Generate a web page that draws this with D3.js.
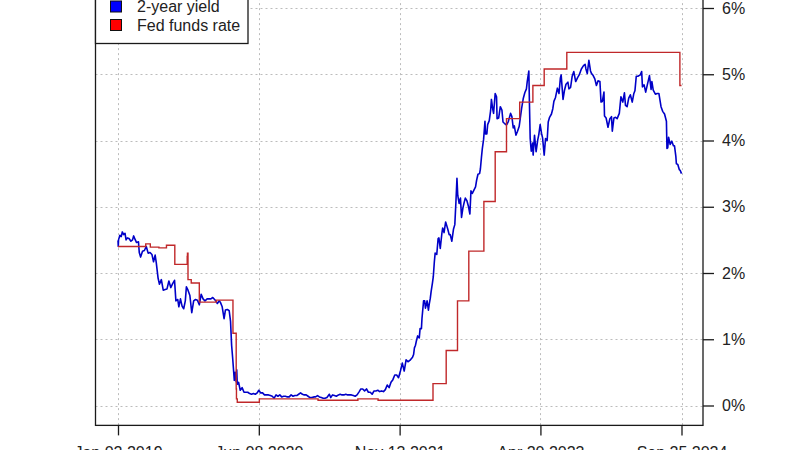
<!DOCTYPE html>
<html><head><meta charset="utf-8">
<script src="https://cdn.jsdelivr.net/npm/d3@7"></script>
<style>body{margin:0;background:#fff}svg{display:block}text{font-family:"Liberation Sans",Arial,sans-serif}</style>
</head><body><svg id="chart" width="800" height="450"></svg>
<script>
// 2-year Treasury yield (%)
const yieldSeries = [
["2019-01-02",2.49],["2019-01-03",2.40],["2019-01-04",2.50],["2019-01-09",2.57],["2019-01-14",2.55],["2019-01-18",2.62],["2019-01-23",2.58],["2019-01-28",2.60],
["2019-02-01",2.50],["2019-02-06",2.53],["2019-02-12",2.52],["2019-02-19",2.48],["2019-02-25",2.50],["2019-03-01",2.56],["2019-03-06",2.51],["2019-03-12",2.46],
["2019-03-19",2.47],["2019-03-22",2.31],["2019-03-27",2.24],["2019-04-03",2.33],["2019-04-10",2.34],["2019-04-17",2.40],["2019-04-24",2.30],["2019-05-01",2.31],
["2019-05-08",2.28],["2019-05-14",2.17],["2019-05-20",2.27],["2019-05-24",2.16],["2019-05-31",1.92],["2019-06-05",1.83],["2019-06-12",1.90],["2019-06-19",1.74],
["2019-06-26",1.75],["2019-07-03",1.76],["2019-07-10",1.88],["2019-07-17",1.78],["2019-07-24",1.84],["2019-07-31",1.89],["2019-08-05",1.58],["2019-08-12",1.60],
["2019-08-16",1.49],["2019-08-22",1.61],["2019-08-28",1.50],["2019-09-03",1.46],["2019-09-09",1.58],["2019-09-13",1.79],["2019-09-19",1.74],["2019-09-26",1.66],
["2019-10-03",1.40],["2019-10-10",1.58],["2019-10-17",1.60],["2019-10-24",1.59],["2019-10-31",1.52],["2019-11-07",1.68],["2019-11-14",1.61],["2019-11-21",1.58],
["2019-11-29",1.61],["2019-12-06",1.61],["2019-12-13",1.61],["2019-12-20",1.63],["2019-12-31",1.58],
["2020-01-06",1.54],["2020-01-13",1.58],["2020-01-17",1.56],["2020-01-24",1.49],["2020-01-31",1.31],["2020-02-05",1.44],["2020-02-12",1.45],["2020-02-19",1.43],
["2020-02-24",1.27],["2020-02-28",0.91],["2020-03-03",0.71],["2020-03-09",0.38],["2020-03-12",0.50],["2020-03-16",0.36],["2020-03-18",0.54],["2020-03-20",0.32],
["2020-03-25",0.35],["2020-03-31",0.23],["2020-04-07",0.27],["2020-04-14",0.20],["2020-04-21",0.20],["2020-04-28",0.20],["2020-05-05",0.18],["2020-05-12",0.17],
["2020-05-19",0.18],["2020-05-26",0.17],["2020-06-02",0.19],["2020-06-08",0.23],["2020-06-15",0.19],["2020-06-22",0.19],["2020-06-29",0.16],["2020-07-07",0.16],
["2020-07-14",0.16],["2020-07-21",0.15],["2020-07-28",0.14],["2020-08-04",0.11],["2020-08-11",0.16],["2020-08-18",0.14],["2020-08-25",0.16],["2020-09-01",0.13],
["2020-09-08",0.14],["2020-09-15",0.14],["2020-09-22",0.13],["2020-09-29",0.13],["2020-10-06",0.16],["2020-10-13",0.14],["2020-10-20",0.15],["2020-10-27",0.15],
["2020-11-03",0.17],["2020-11-10",0.19],["2020-11-17",0.17],["2020-11-24",0.16],["2020-12-01",0.16],["2020-12-08",0.14],["2020-12-15",0.12],["2020-12-22",0.12],
["2020-12-31",0.13],
["2021-01-05",0.13],["2021-01-12",0.15],["2021-01-19",0.13],["2021-01-26",0.12],["2021-02-02",0.11],["2021-02-09",0.11],["2021-02-16",0.12],["2021-02-25",0.17],
["2021-03-02",0.12],["2021-03-09",0.16],["2021-03-16",0.15],["2021-03-23",0.14],["2021-03-31",0.16],["2021-04-06",0.17],["2021-04-13",0.16],["2021-04-20",0.16],
["2021-04-27",0.17],["2021-05-04",0.16],["2021-05-11",0.16],["2021-05-18",0.16],["2021-05-25",0.15],["2021-06-01",0.14],["2021-06-08",0.16],["2021-06-16",0.21],
["2021-06-22",0.25],["2021-06-29",0.25],["2021-07-06",0.22],["2021-07-13",0.25],["2021-07-20",0.20],["2021-07-27",0.20],["2021-08-03",0.17],["2021-08-10",0.22],
["2021-08-17",0.22],["2021-08-24",0.23],["2021-08-31",0.21],["2021-09-07",0.22],["2021-09-14",0.21],["2021-09-21",0.24],["2021-09-28",0.31],["2021-10-05",0.27],
["2021-10-12",0.35],["2021-10-19",0.39],["2021-10-26",0.46],["2021-11-02",0.46],["2021-11-09",0.42],["2021-11-16",0.52],["2021-11-23",0.64],["2021-11-30",0.52],
["2021-12-07",0.69],["2021-12-14",0.66],["2021-12-21",0.68],["2021-12-31",0.73],
["2022-01-04",0.77],["2022-01-07",0.87],["2022-01-11",0.91],["2022-01-14",0.97],["2022-01-19",1.05],["2022-01-25",1.02],["2022-01-28",1.16],["2022-02-02",1.16],
["2022-02-04",1.31],["2022-02-10",1.58],["2022-02-14",1.58],["2022-02-17",1.47],["2022-02-23",1.58],["2022-02-28",1.44],["2022-03-03",1.53],["2022-03-07",1.62],
["2022-03-10",1.72],["2022-03-15",1.85],["2022-03-18",1.94],["2022-03-22",2.17],["2022-03-25",2.30],["2022-03-31",2.28],["2022-04-05",2.52],["2022-04-08",2.53],
["2022-04-13",2.37],["2022-04-19",2.60],["2022-04-22",2.68],["2022-04-27",2.61],["2022-05-03",2.77],["2022-05-06",2.73],["2022-05-11",2.66],["2022-05-16",2.58],
["2022-05-20",2.58],["2022-05-26",2.48],["2022-06-01",2.66],["2022-06-06",2.73],["2022-06-10",3.06],["2022-06-14",3.43],["2022-06-17",3.17],["2022-06-22",3.05],
["2022-06-27",3.13],["2022-07-01",2.84],["2022-07-06",2.98],["2022-07-11",3.07],["2022-07-15",3.13],["2022-07-21",3.09],["2022-07-27",3.00],["2022-08-01",2.89],
["2022-08-05",3.24],["2022-08-10",3.20],["2022-08-16",3.25],["2022-08-22",3.30],["2022-08-26",3.40],["2022-08-31",3.49],["2022-09-06",3.50],["2022-09-09",3.57],
["2022-09-13",3.75],["2022-09-16",3.87],["2022-09-21",4.02],["2022-09-26",4.29],["2022-09-28",4.10],["2022-10-03",4.10],["2022-10-06",4.24],["2022-10-12",4.30],
["2022-10-17",4.45],["2022-10-20",4.62],["2022-10-25",4.47],["2022-10-28",4.41],["2022-11-03",4.71],["2022-11-08",4.66],["2022-11-10",4.33],["2022-11-16",4.34],
["2022-11-22",4.51],["2022-11-28",4.46],["2022-12-02",4.28],["2022-12-07",4.26],["2022-12-13",4.24],["2022-12-16",4.24],["2022-12-22",4.29],["2022-12-30",4.41],
["2023-01-04",4.36],["2023-01-09",4.19],["2023-01-13",4.22],["2023-01-19",4.08],["2023-01-25",4.14],["2023-01-31",4.21],["2023-02-03",4.30],["2023-02-09",4.48],
["2023-02-15",4.63],["2023-02-21",4.72],["2023-02-27",4.78],["2023-03-02",4.89],["2023-03-08",5.05],["2023-03-10",4.60],["2023-03-13",4.03],["2023-03-15",3.93],
["2023-03-17",3.84],["2023-03-22",3.96],["2023-03-24",3.78],["2023-03-29",4.08],["2023-04-04",3.83],["2023-04-10",4.01],["2023-04-14",4.09],["2023-04-19",4.24],
["2023-04-24",4.11],["2023-04-28",4.04],["2023-05-04",3.78],["2023-05-09",4.03],["2023-05-15",4.00],["2023-05-19",4.28],["2023-05-24",4.35],["2023-05-31",4.40],
["2023-06-05",4.48],["2023-06-09",4.59],["2023-06-15",4.65],["2023-06-22",4.79],["2023-06-28",4.71],["2023-07-03",4.94],["2023-07-06",4.99],["2023-07-13",4.62],
["2023-07-18",4.75],["2023-07-24",4.85],["2023-07-31",4.88],["2023-08-04",4.78],["2023-08-10",4.80],["2023-08-16",4.97],["2023-08-22",5.04],["2023-08-29",4.89],
["2023-09-05",4.95],["2023-09-11",4.99],["2023-09-19",5.08],["2023-09-27",5.13],["2023-10-03",5.15],["2023-10-06",5.08],["2023-10-11",5.01],["2023-10-17",5.21],
["2023-10-23",5.05],["2023-10-27",5.01],["2023-11-02",4.98],["2023-11-08",4.93],["2023-11-14",4.83],["2023-11-20",4.90],["2023-11-27",4.89],["2023-12-01",4.58],
["2023-12-06",4.59],["2023-12-12",4.73],["2023-12-14",4.37],["2023-12-20",4.34],["2023-12-27",4.20],
["2024-01-03",4.33],["2024-01-09",4.36],["2024-01-12",4.14],["2024-01-18",4.34],["2024-01-24",4.35],["2024-01-30",4.33],["2024-02-02",4.36],["2024-02-07",4.41],
["2024-02-13",4.66],["2024-02-20",4.58],["2024-02-26",4.72],["2024-03-01",4.53],["2024-03-07",4.51],["2024-03-13",4.64],["2024-03-19",4.69],["2024-03-26",4.58],
["2024-04-01",4.71],["2024-04-05",4.75],["2024-04-10",4.97],["2024-04-16",4.97],["2024-04-25",4.99],["2024-04-30",5.04],["2024-05-03",4.81],["2024-05-09",4.84],
["2024-05-15",4.73],["2024-05-21",4.84],["2024-05-29",4.98],["2024-06-04",4.77],["2024-06-07",4.89],["2024-06-12",4.76],["2024-06-20",4.70],["2024-06-27",4.71],
["2024-07-03",4.71],["2024-07-11",4.51],["2024-07-17",4.44],["2024-07-24",4.40],["2024-07-31",4.29],["2024-08-02",3.88],["2024-08-05",3.89],["2024-08-08",4.05],
["2024-08-14",3.94],["2024-08-20",3.99],["2024-08-26",3.92],["2024-08-30",3.92],["2024-09-04",3.76],["2024-09-06",3.65],["2024-09-11",3.64],["2024-09-17",3.56],
["2024-09-20",3.55],["2024-09-25",3.50]
];

// Effective fed funds rate (%), step changes
const fedFundsSeries = [
["2019-01-02",2.40],["2019-04-15",2.44],["2019-05-02",2.39],["2019-06-03",2.38],["2019-07-01",2.42],["2019-08-01",2.13],["2019-09-16",2.25],["2019-09-17",2.30],
["2019-09-19",1.90],["2019-10-01",1.85],["2019-10-31",1.58],["2019-11-01",1.56],["2020-01-02",1.59],["2020-03-04",1.09],["2020-03-16",0.25],["2020-03-17",0.10],
["2020-03-20",0.05],["2020-06-10",0.10],["2021-01-14",0.08],["2021-06-11",0.10],["2021-08-25",0.08],["2022-03-17",0.33],["2022-05-05",0.83],["2022-06-16",1.58],
["2022-07-28",2.33],["2022-09-22",3.08],["2022-11-03",3.83],["2022-12-15",4.33],["2023-02-02",4.58],["2023-03-23",4.83],["2023-05-04",5.08],["2023-07-27",5.33],
["2024-09-19",4.83],["2024-09-25",4.83]
];

const tickDates = ["2019-01-02","2020-06-08","2021-11-13","2023-04-20","2024-09-25"];
const tickLabels = ["Jan 02 2019","Jun 08 2020","Nov 13 2021","Apr 20 2023","Sep 25 2024"];
const yTicks = [0,1,2,3,4,5,6];
const seriesNames = ["2-year yield","Fed funds rate"];
const legendFills = ["#0000ff","#ff0000"];
const lineColors = ["#0000c8","#c0282a"];

const parse = d3.utcParse("%Y-%m-%d");
const svg = d3.select("#chart");

const x = d3.scaleUtc().domain([parse("2019-01-02"), parse("2024-09-25")]).range([118, 681.5]);
const y = d3.scaleLinear().domain([0, 6]).range([405.5, 8]);
const box = {l: 95.5, r: 703, t: y(6.3), b: y(-0.3)};

// grid
const grid = svg.append("g").attr("stroke", "#bcbcbc").attr("stroke-width", 1).attr("stroke-dasharray", "2,3");
grid.selectAll(".h").data(yTicks).join("line")
  .attr("x1", box.l).attr("x2", box.r)
  .attr("y1", d => Math.round(y(d)) + 0.5).attr("y2", d => Math.round(y(d)) + 0.5);
grid.selectAll(".v").data(tickDates).join("line")
  .attr("y1", box.t).attr("y2", box.b)
  .attr("x1", d => Math.round(x(parse(d))) + 0.5).attr("x2", d => Math.round(x(parse(d))) + 0.5);

// lines
const line = d3.line().x(d => x(parse(d[0]))).y(d => y(d[1]));
const stepLine = d3.line().curve(d3.curveStepAfter).x(d => x(parse(d[0]))).y(d => y(d[1]));
svg.append("path").datum(yieldSeries).attr("d", line)
  .attr("fill", "none").attr("stroke", lineColors[0]).attr("stroke-width", 1.6).attr("stroke-linejoin", "round");
svg.append("path").datum(fedFundsSeries).attr("d", stepLine)
  .attr("fill", "none").attr("stroke", lineColors[1]).attr("stroke-width", 1.4);

// box
svg.append("rect").attr("x", box.l).attr("y", box.t).attr("width", box.r - box.l).attr("height", box.b - box.t)
  .attr("fill", "none").attr("stroke", "#1a1a1a").attr("stroke-width", 1.3);

// right axis
const yAxis = svg.append("g").attr("transform", `translate(${box.r},0)`)
  .call(d3.axisRight(y).tickValues(yTicks).tickFormat(d => d + "%").tickSize(11).tickPadding(8));
yAxis.select(".domain").remove();
yAxis.selectAll("line").attr("stroke", "#1a1a1a").attr("stroke-width", 1.3);
yAxis.selectAll("text").attr("font-size", 16).attr("fill", "#222").attr("font-family", '"Liberation Sans",Arial,sans-serif');

// bottom axis
const xAxis = svg.append("g").attr("transform", `translate(0,${box.b})`)
  .call(d3.axisBottom(x).tickValues(tickDates.map(parse)).tickFormat((d, i) => tickLabels[i]).tickSize(10).tickPadding(11));
xAxis.select(".domain").remove();
xAxis.selectAll("line").attr("stroke", "#1a1a1a").attr("stroke-width", 1.3);
xAxis.selectAll("text").attr("font-size", 16).attr("fill", "#222").attr("font-family", '"Liberation Sans",Arial,sans-serif');

// legend
const leg = svg.append("g");
leg.append("rect").attr("x", box.l).attr("y", box.t).attr("width", 152.5).attr("height", 43.5 - box.t)
  .attr("fill", "#fff").attr("stroke", "#1a1a1a").attr("stroke-width", 1.3);
const rowY = [6.5, 25];
seriesNames.forEach((name, i) => {
  leg.append("rect").attr("x", 110.5).attr("y", rowY[i] - 5.5).attr("width", 11).attr("height", 11)
    .attr("fill", legendFills[i]).attr("stroke", "#111").attr("stroke-width", 1);
  leg.append("text").attr("x", 137).attr("y", rowY[i]).attr("dy", "0.35em")
    .attr("font-size", 16).attr("fill", "#222").text(name);
});
</script>
</body></html>
